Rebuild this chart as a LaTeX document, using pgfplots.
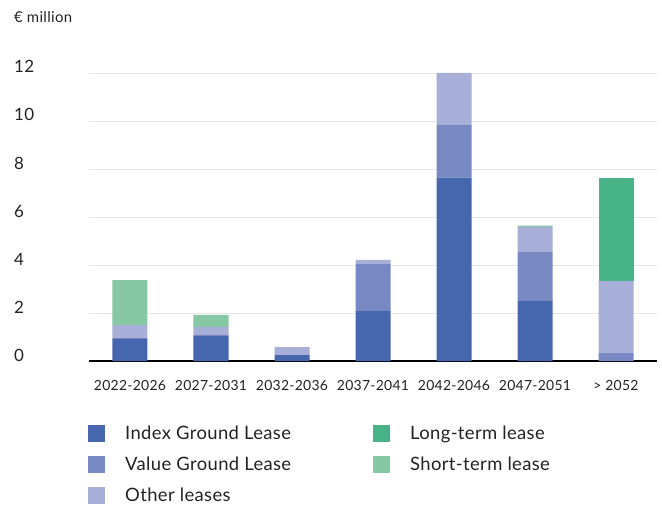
\documentclass[border=0pt]{standalone}
\usepackage{pgfplots}
\pgfplotsset{compat=1.18}
\usepackage{fontspec}
\setmainfont{Lato}[LetterSpace=2]
\definecolor{cIndex}{HTML}{4667AE}
\definecolor{cValue}{HTML}{7788C3}
\definecolor{cOther}{HTML}{A7AED8}
\definecolor{cLong}{HTML}{48B387}
\definecolor{cShort}{HTML}{86C8A4}
\definecolor{cGrid}{HTML}{E6E6E6}
\definecolor{cText}{HTML}{222222}
\begin{document}
\begin{tikzpicture}
\useasboundingbox (-89.5bp,-145bp) rectangle (572.5bp,361bp);
\begin{axis}[
  scale only axis,
  width=567bp, height=288bp,
  xmin=-0.5, xmax=6.5, ymin=0, ymax=12,
  ybar stacked, bar width=35bp,
  axis x line*=bottom, axis y line*=left,
  x axis line style={line width=2pt, black, -},
  y axis line style={draw=none},
  ytick={0,2,...,12}, xtick={0,...,6},
  xticklabels={2022-2026,2027-2031,2032-2036,2037-2041,2042-2046,2047-2051,> 2052},
  major tick length=0pt,
  ymajorgrids, grid style={cGrid, line width=0.9pt},
  /pgf/number format/assume math mode=true,
  yticklabel style={anchor=base west, xshift=-75.5bp, inner sep=0pt, font=\fontsize{17}{20}\selectfont, text=cText},
  xticklabel style={font=\fontsize{14}{17}\selectfont, text=cText, yshift=-16bp},
  clip=false,
  legend columns=2,
  legend style={at={(0,0)}, anchor=north west, xshift=-1.5bp, yshift=-64bp, draw=none, fill=none,
    font=\fontsize{18.5}{21}\selectfont, text=cText, inner sep=0pt,
    row sep=14bp,
    nodes={inner sep=0pt, anchor=west},
    /tikz/every odd column/.style={column sep=20bp},
    /tikz/every even column/.style={column sep=82bp}},
  legend cell align=left,
  legend image code/.code={\fill[#1] (0bp,-8.5bp) rectangle (17bp,8.5bp);},
]
\addplot[fill=cIndex, draw=none, forget plot] coordinates {(0,0.92) (1,1.04) (2,0.25) (3,2.08) (4,7.64) (5,2.50) (6,0)};
\addplot[fill=cValue, draw=none, forget plot] coordinates {(0,0.05) (1,0.05) (2,0) (3,1.96) (4,2.19) (5,2.04) (6,0.33)};
\addplot[fill=cOther, draw=none, forget plot] coordinates {(0,0.53) (1,0.33) (2,0.33) (3,0.17) (4,2.17) (5,1.04) (6,3.00)};
\addplot[fill=cLong, draw=none, forget plot] coordinates {(0,0) (1,0) (2,0) (3,0) (4,0) (5,0) (6,4.30)};
\addplot[fill=cShort, draw=none, forget plot] coordinates {(0,1.875) (1,0.50) (2,0) (3,0) (4,0) (5,0.06) (6,0)};
\addlegendimage{fill=cIndex, draw=none}\addlegendentry{Index Ground Lease}
\addlegendimage{fill=cLong, draw=none}\addlegendentry{Long-term lease}
\addlegendimage{fill=cValue, draw=none}\addlegendentry{Value Ground Lease}
\addlegendimage{fill=cShort, draw=none}\addlegendentry{Short-term lease}
\addlegendimage{fill=cOther, draw=none}\addlegendentry{Other leases}
\end{axis}
\node[anchor=base west, inner sep=0pt, text=cText, font=\fontsize{15}{17}\selectfont] at (-75.5bp,338bp) {€ million};
\end{tikzpicture}
\end{document}
